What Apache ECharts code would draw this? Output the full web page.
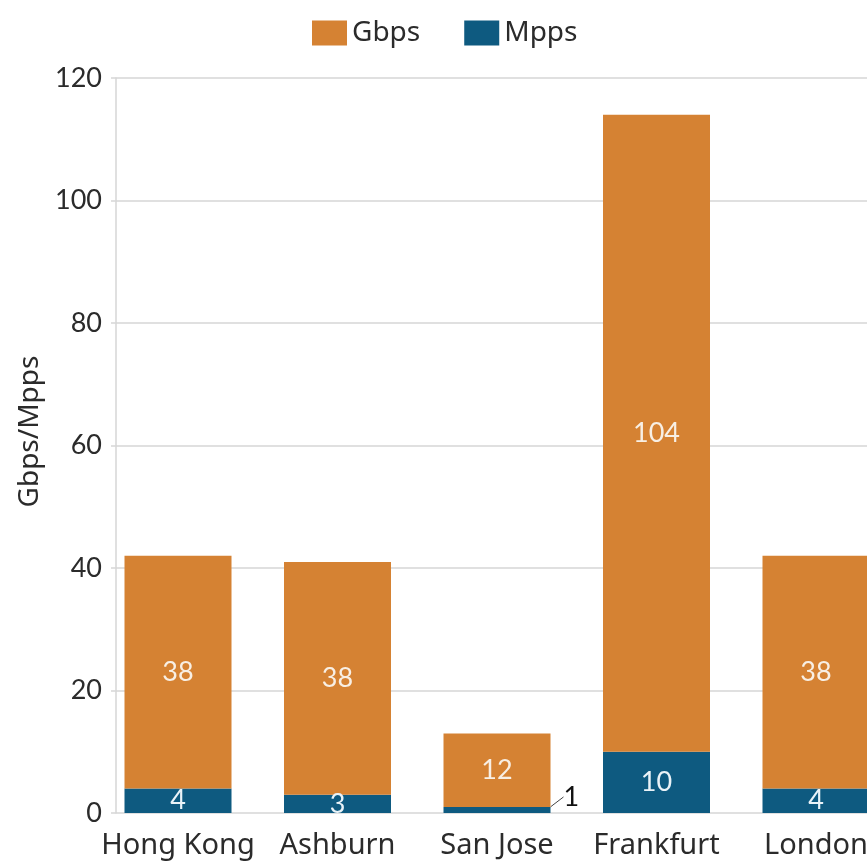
<!DOCTYPE html>
<html>
<head>
<meta charset="utf-8">
<style>
  html, body { margin: 0; padding: 0; background: #ffffff; }
  #chart { width: 867px; height: 863px; }
</style>
<script src="https://cdn.jsdelivr.net/npm/echarts@6/dist/echarts.min.js"></script>
</head>
<body>
<div id="chart"></div>
<script>
// Throughput per site, stacked: packets (Mpps) at the base, bandwidth (Gbps) above.
const sites = ['Hong Kong', 'Ashburn', 'San Jose', 'Frankfurt', 'London'];
const mpps = [4, 3, 1, 10, 4];
const gbps = [38, 38, 12, 104, 38];
const yTicks = { min: 0, max: 120, step: 20 };

const NUM_FONT = 'Lato';
const WORD_FONT = 'Noto Sans';
const ORANGE = '#d58233';
const BLUE = '#0e5a80';
const GRID_LINE = '#d6d6d6';
const TEXT = '#2b2b2b';

const chart = echarts.init(document.getElementById('chart'), null, { renderer: 'canvas' });

// Small sites get their Mpps label outside the bar, with a short guide line.
const mppsData = mpps.map(function (v) {
  if (v < 2) {
    return {
      value: v,
      label: { position: 'right', distance: 4, color: '#111111' },
      labelLine: { show: true, lineStyle: { color: '#444444', width: 1 } }
    };
  }
  return v;
});

chart.setOption({
  animation: false,
  textStyle: { fontFamily: WORD_FONT },
  legend: {
    top: 14,
    left: 307,
    itemWidth: 35,
    itemHeight: 25,
    itemGap: 44,
    icon: 'rect',
    textStyle: { fontFamily: WORD_FONT, fontSize: 28, color: TEXT },
    data: ['Gbps', 'Mpps']
  },
  grid: [
    // frame grid: value gridlines and the vertical axis
    { left: 116, right: -29, top: 78, bottom: 50, containLabel: false, outerBoundsMode: 'none' },
    // bar grid: category bands for the five sites
    { left: 98.25, right: -28.75, top: 78, bottom: 50, containLabel: false, outerBoundsMode: 'none' }
  ],
  xAxis: [
    { gridIndex: 0, type: 'value', show: false, min: 0, max: 1 },
    {
      gridIndex: 1,
      type: 'category',
      data: sites,
      boundaryGap: true,
      axisLine: { show: false },
      axisTick: { show: false },
      axisLabel: { interval: 0, hideOverlap: false, fontFamily: WORD_FONT, fontSize: 29, color: TEXT, margin: 18 }
    }
  ],
  yAxis: [
    {
      gridIndex: 0,
      type: 'value',
      min: yTicks.min,
      max: yTicks.max,
      interval: yTicks.step,
      name: 'Gbps/Mpps',
      nameLocation: 'middle',
      nameGap: 54,
      nameTextStyle: { fontFamily: WORD_FONT, fontSize: 28, color: TEXT, padding: [0, 0, 0, 28] },
      axisLine: { show: true, lineStyle: { color: GRID_LINE, width: 1.5 } },
      axisTick: { show: true, length: 5, lineStyle: { color: GRID_LINE, width: 1.5 } },
      splitLine: { show: true, lineStyle: { color: GRID_LINE, width: 1.5 } },
      axisLabel: { fontFamily: NUM_FONT, fontSize: 27, color: TEXT, margin: 14 }
    },
    { gridIndex: 1, type: 'value', show: false, min: yTicks.min, max: yTicks.max }
  ],
  series: [
    {
      name: 'Mpps',
      type: 'bar',
      xAxisIndex: 1,
      yAxisIndex: 1,
      stack: 'site',
      barWidth: 107,
      data: mppsData,
      itemStyle: { color: BLUE },
      label: {
        show: true,
        position: 'inside',
        fontFamily: NUM_FONT,
        fontSize: 27,
        color: '#eaf3f8'
      },
      labelLayout: function (p) {
        return mpps[p.dataIndex] < 2 ? { dx: 9, dy: -13 } : {};
      }
    },
    {
      name: 'Gbps',
      type: 'bar',
      xAxisIndex: 1,
      yAxisIndex: 1,
      stack: 'site',
      barWidth: 107,
      data: gbps,
      itemStyle: { color: ORANGE },
      label: {
        show: true,
        position: 'inside',
        fontFamily: NUM_FONT,
        fontSize: 27,
        color: '#f8efe4'
      }
    }
  ]
});
</script>
</body>
</html>
